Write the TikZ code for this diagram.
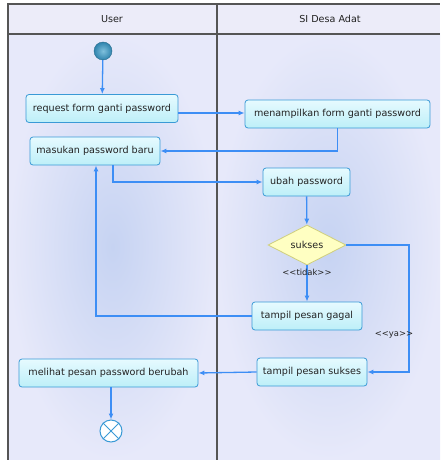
\documentclass[tikz,border=0pt]{standalone}
\usepackage{fontspec}
\setmainfont{DejaVu Sans}
\usetikzlibrary{shapes.geometric,arrows.meta}

\definecolor{lanemid}{HTML}{C6D3F2}
\definecolor{laneedge}{HTML}{E7E9FA}
\definecolor{headfill}{HTML}{ECECF9}
\definecolor{framecol}{HTML}{555555}
\definecolor{boxline}{HTML}{3A9AD6}
\definecolor{boxtop}{HTML}{E6FAFF}
\definecolor{boxbot}{HTML}{BDEFF8}
\definecolor{flowcol}{HTML}{3D8EF5}
\definecolor{decfill}{HTML}{FFFFC2}
\definecolor{decline}{HTML}{CFCF7E}
\definecolor{startin}{HTML}{7FC0DC}
\definecolor{startout}{HTML}{2F84AE}
\definecolor{txt}{HTML}{222222}

\tikzset{
  lbl/.style={font=\fontsize{9.6}{11}\selectfont, text=txt},
  guard/.style={font=\fontsize{8.4}{10}\selectfont, text=txt},
  act/.style={lbl, draw=boxline, line width=0.8pt, rounded corners=3pt,
    top color=boxtop, bottom color=boxbot, minimum height=28pt,
    inner xsep=2pt, align=center},
  flow/.style={draw=flowcol, line width=1.3pt,
    -{Latex[length=6pt,width=5pt]}},
  frameline/.style={draw=framecol, line width=1.2pt}
}

\begin{document}
\begin{tikzpicture}[x=1pt,y=-1pt]
\useasboundingbox (0,0) rectangle (440,460);
\fill[white] (0,0) rectangle (440,460);

% swimlanes
\shade[inner color=lanemid, outer color=laneedge] (8,34) rectangle (217,460);
\shade[inner color=lanemid, outer color=laneedge] (217,34) rectangle (440,460);
\fill[headfill] (8,4) rectangle (440,34);
\draw[frameline] (8,460) -- (8,4) -- (440,4);
\draw[frameline] (8,34) -- (440,34);
\draw[frameline] (217,4) -- (217,460);
\node[lbl] (laneuser) at (112,19) {User};
\node[lbl] (lanesys) at (330,19) {SI Desa Adat};

% activities
\node[circle, minimum size=18pt, inner sep=0pt, inner color=startin, outer color=startout, draw=startout!80!black, line width=0.4pt] (start) at (103,51) {};
\node[act, minimum width=152pt] (req) at (102,108.5) {request form ganti password};
\node[act, minimum width=185pt] (show) at (337.5,114) {menampilkan form ganti password};
\node[act, minimum width=130pt] (input) at (95,151) {masukan password baru};
\node[act, minimum width=87pt] (change) at (306.5,182) {ubah password};
\node[diamond, lbl, minimum width=78pt, minimum height=40pt, inner sep=0pt,
  fill=decfill, draw=decline, line width=0.8pt] (dec) at (307,245) {sukses};
\node[act, minimum width=110pt] (fail) at (307,316) {tampil pesan gagal};
\node[act, minimum width=110pt] (ok) at (312,372) {tampil pesan sukses};
\node[act, minimum width=179pt] (seen) at (108.5,373) {melihat pesan password berubah};
\node[circle, minimum size=22pt, inner sep=0pt, fill=white, draw=boxline, line width=1pt] (stop) at (111,431) {};
\draw[boxline, line width=1pt] (stop.45) -- (stop.225) (stop.135) -- (stop.315);

% turning points
\coordinate (yaturn) at (409,245);
\coordinate (failturn) at (96,316);

% control flow
\draw[flow] (start) -- (req);
\draw[flow] (req.east |- 0,113) -- (show.west |- 0,113);
\draw[flow] (show.south) |- (input.east);
\draw[flow] ([xshift=18pt]input.south) |- (change.west);
\draw[flow] (change) -- (dec);
\draw[flow] (dec) -- (fail);
\node[guard] (tidak) at (307,272) {{<}{<}tidak{>}{>}};
\draw[flow] (fail.west) -- (failturn) -- (failturn |- input.south);
\draw[flow] (dec.east) -- (yaturn) |- (ok.east);
\node[guard] (ya) at (394,335) {{<}{<}ya{>}{>}};
\draw[flow] (ok.west) -- (seen.east);
\draw[flow] (seen.south -| stop) -- (stop);
\end{tikzpicture}
\end{document}
